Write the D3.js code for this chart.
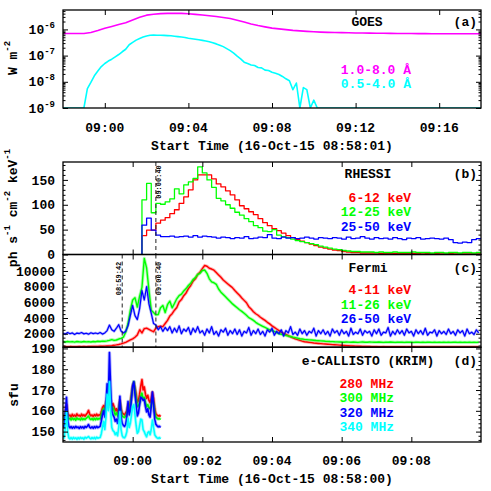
<!DOCTYPE html>
<html><head><meta charset="utf-8">
<script src="https://cdn.jsdelivr.net/npm/d3@7"></script>
<style>body{margin:0;background:#fff} svg{display:block}</style>
</head><body><svg id="c" width="491" height="491"></svg>
<script>
// ---------------- DATA ----------------
// GOES (panel a), seconds from 08:58:00
const goesLongCadence = 20;   // s
const goesLong = [ // 1.0-8.0 A, W m^-2
 7.0e-7,7.0e-7,7.0e-7,7.0e-7,7.6e-7,9.0e-7,1.1e-6,1.3e-6,1.55e-6,1.8e-6,
 2.3e-6,2.9e-6,3.5e-6,3.8e-6,4.0e-6,4.1e-6,4.15e-6,4.1e-6,3.95e-6,3.75e-6,
 3.55e-6,3.3e-6,3.1e-6,2.85e-6,2.6e-6,2.25e-6,1.9e-6,1.6e-6,1.4e-6,1.25e-6,
 1.12e-6,1.05e-6,9.8e-7,9.2e-7,8.8e-7,8.4e-7,8.1e-7,7.9e-7,7.7e-7,7.6e-7,
 7.5e-7,7.4e-7,7.3e-7,7.25e-7,7.2e-7,7.15e-7,7.1e-7,7.05e-7,7.0e-7,7.0e-7,
 6.95e-7,6.9e-7,6.9e-7,6.85e-7,6.85e-7,6.8e-7,6.8e-7,6.8e-7,6.8e-7,6.8e-7,
 6.8e-7];
const goesShortCadence = 10;  // s
const goesShort = [ // 0.5-4.0 A
 1e-9,1e-9,1e-9,1e-9,1e-9,1e-9,1e-9,5.5e-9,9.5e-9,1.7e-8,
 2.6e-8,3.8e-8,5e-8,6.2e-8,7.3e-8,9e-8,1.1e-7,1.4e-7,1.75e-7,2.6e-7,
 3.2e-7,3.9e-7,4.5e-7,5.1e-7,5.6e-7,6.0e-7,6.1e-7,6.0e-7,6.0e-7,5.9e-7,
 5.8e-7,5.7e-7,5.5e-7,5.3e-7,5.1e-7,4.9e-7,4.6e-7,4.4e-7,4.2e-7,4.0e-7,
 3.8e-7,3.6e-7,3.4e-7,3.1e-7,2.8e-7,2.5e-7,2.2e-7,1.85e-7,1.55e-7,1.25e-7,
 9.5e-8,7.5e-8,5.6e-8,5.0e-8,4.4e-8,4.2e-8,3.5e-8,3.4e-8,2.8e-8,2.7e-8,
 2.3e-8,2.1e-8,1.9e-8,1.6e-8,1.3e-8,1.1e-8,5e-9,9e-9,1e-9,6e-9,
 5e-9,1e-9,2e-9,1e-9,1e-9,1e-9,1e-9,1e-9,1e-9,1e-9,
 1e-9,1e-9,1e-9,1e-9,1e-9,1e-9,1e-9,1e-9,1e-9,1e-9,
 1e-9,1e-9,1e-9,1e-9,1e-9,1e-9,1e-9,1e-9,1e-9,1e-9,
 1e-9,1e-9,1e-9,1e-9,1e-9,1e-9,1e-9,1e-9,1e-9,1e-9,
 1e-9,1e-9,1e-9,1e-9,1e-9,1e-9,1e-9,1e-9,1e-9,1e-9,
 1e-9];

// RHESSI (panel b): 8 s bins starting 136 s after 08:58:00
const rhessiStart = 136, rhessiBin = 8;
const rhessi6_12 = [
 38,49,49,63,69,74,82,90,103,116,
 130,150,160,160,160,152,142,136,128,120,
 110,98,92,86,80,72,64,58,52,48,
 43,38,34,30,27,24,21,18,15,13,
 11,9,8,6,5,4,4,3,3,3,
 3,2,2,2,2,2,2,2,2,2,
 1,2,1,2,1,1,2,1,1,1,
 1,1,1];
const rhessi12_25 = [
 110,143,84,103,101,106,112,132,122,140,
 146,153,176,164,150,135,113,108,100,93,
 85,79,72,66,58,54,47,46,50,39,
 36,34,31,28,26,24,22,20,17,15,
 13,11,10,8,7,6,6,5,5,5,
 4,5,4,4,5,4,4,4,5,4,
 4,4,3,4,4,3,4,4,3,4,
 4,3,4];
const rhessi25_50 = [
 59,73,49,39,36,36,37,35,36,37,
 35,38,35,37,36,35,33,35,34,32,
 34,33,36,32,33,35,34,40,33,32,
 35,33,34,32,33,35,33,31,34,33,
 32,34,33,31,35,32,33,36,33,31,
 34,32,33,31,34,32,30,33,32,34,
 31,32,33,32,31,33,30,24,23,25,
 24,30,32];

// Fermi (panel c): 4 s cadence from 08:58:00, counts
const fermiCadence = 4;
const fermi4_11 = [
 340,352,335,360,348,356,342,365,350,362,358,370,366,380,375,
 390,405,400,420,435,455,480,520,570,630,710,800,900,1050,1200,
 1350,1550,1850,2500,2100,2650,2700,2550,2400,2250,2700,2900,2950,2900,3300,
 3700,4250,4550,5000,5350,6050,6350,6850,7200,7750,8150,8700,9000,9550,9850,
 10300,10700,10600,10350,10250,10100,9800,9500,9200,8850,8600,8350,8100,7850,7500,
 7200,6900,6550,6250,5950,5450,5150,4800,4550,4350,4100,3900,3700,3450,3250,
 3000,2800,2600,2400,2200,2050,1900,1750,1600,1470,1350,1250,1150,1060,980,
 940,900,860,820,790,760,730,700,680,660,640,610,590,570,550,
 520,500,480,465,450,435,420,408,398,388,378,370,362,356,350,
 345,340,338,342,336,334,338,332,335,330,333,328,331,327,330,
 326,329,324,327,322,326,321,324,320,323,319,322,318,321,317,
 320,316,319,315,318,314,317,313,316,312,315,311,314,310,313];
const fermi11_26 = [
 980,940,1010,960,990,930,1000,970,950,1010,960,990,940,1000,970,
 1040,1010,1060,1030,1080,1150,1250,1150,1200,1320,1400,1550,2200,3300,5000,
 6300,6600,5400,6800,7900,11600,10400,7600,5000,4700,4400,4450,5300,5600,4700,
 5700,6150,5300,5850,6450,6850,7050,7450,7750,8150,8450,8900,9150,9550,9700,
 10050,10120,9700,9000,8600,8500,8300,7700,7300,7000,6700,6400,6100,5800,5550,
 5300,5050,4850,4600,4350,4050,3900,3700,3450,3250,3100,2950,2800,2650,2500,
 2400,2300,2150,2000,1930,1850,1780,1700,1640,1560,1500,1430,1360,1320,1280,
 1250,1220,1190,1160,1130,1110,1090,1070,1040,1020,1000,990,970,960,950,
 940,920,950,930,910,940,920,900,930,950,920,910,940,930,920,
 910,940,920,900,930,910,940,920,900,930,910,920,900,930,910,
 920,900,930,910,890,920,900,930,910,890,920,900,910,890,920,
 900,920,890,910,930,900,920,890,910,900,920,890,910,900,920];
const fermi26_50 = [
 2050,1950,2150,2000,2100,1900,2080,2020,2150,1980,2060,1940,2120,2010,2090,
 2000,2150,1950,2100,2400,3100,2500,2300,2700,3150,2350,2100,2300,3000,4300,
 5600,4300,3800,5200,7500,6300,8000,5800,4600,3300,3100,2500,2900,2300,2800,
 2400,2900,2100,2700,2200,3000,2000,2600,2300,2800,1900,2700,2200,2900,2100,
 2400,1800,2600,2100,2900,1900,2300,1700,2500,2200,2700,1800,2400,2000,2600,
 1900,2500,1700,2300,2100,2800,1800,2400,2000,2600,1900,2300,1700,2500,2200,
 2700,1800,2300,2000,2500,1700,2400,2100,2900,1900,2200,1800,2600,2000,2400,
 1800,2300,2100,2700,1700,2400,2000,2500,1900,2300,1700,2600,2100,2400,1800,
 2500,2000,2300,1700,2700,1900,2200,2000,2600,1800,2400,2100,2300,1700,2500,
 2000,2600,1800,2200,2100,2800,1700,2300,1900,2500,2000,2400,1800,2600,2100,
 2300,1700,2500,2000,2400,1900,2700,1800,2200,2100,2500,1700,2400,2000,2300,
 1900,2600,2000,2300,1800,2500,2100,2400,1700,2600,2000,2200,1900,2500,2100];

// e-CALLISTO KRIM (panel d): 2 s cadence from 08:58:00, sfu
const callistoCadence = 2;
const cal280 = [
 158,157,160,163,159,157.5,158,157,158.3,157.4,
 158,157.2,158.5,157.6,157.9,157.3,158.4,157.5,158.1,157.4,
 158.2,159,160.2,158.3,157.6,158,157.3,158.2,157.5,158.4,
 157.6,158.1,157.8,159.5,161.5,162.5,161,164,166,163,
 170,165,162,163.5,162,160,161,159,161.5,165,
 161,159,158.5,158,159,160,163,161,164,168,
 172,173.5,171,168,164,165,168,172,175,170,
 171.5,168,166,167.5,165,164,166,169,166,161,
 158.5,158,157.5,157.8,157.2];
const cal300 = [
 156.5,155.5,158,161,157,156,156.4,155.6,156.5,155.8,
 156.3,155.5,156.6,155.9,156.2,155.6,156.5,155.7,156.2,155.8,
 156.4,156.9,157.5,156.2,155.8,156.3,155.6,156.4,155.7,156.5,
 155.9,156.3,156.1,158,160,161,160,163,166,162,
 168,163,160,161.5,160,158,159,157.5,160,164,
 159.5,157.5,157,156.8,157.5,158.5,161.5,159.5,162.5,167,
 171,174,170,166,162,162.5,164,167,168.5,166,
 166.5,164,162,163,161.5,161,163,166,163.5,159,
 157,156.5,156,156.3,155.8];
const cal320 = [
 153,152,158,166.5,156,152.5,151.8,152.4,151.6,152.3,
 151.7,152.5,151.9,152.2,151.5,152.4,151.8,152.3,151.6,152.5,
 152,152.6,153.4,152.1,151.7,152.3,151.6,152.4,151.8,152.5,
 151.9,152.2,152.5,155,158,160,157,163,173,165,
 188,172,160,158,157,155,156,154,158,167,
 157,154,153,152.5,153.5,157,164.5,158,160,166,
 172,174,168,163,157.5,159,163,166.5,166,165,
 165.5,162,159.5,161,158,157,162,169,163,156,
 153.5,152.8,152.3,152.6,152];
const cal340 = [
 148,147,152,159.5,150,147,146.5,147.1,146.4,147.2,
 146.6,147,146.3,147.1,146.5,147.2,146.7,147,146.4,147.3,
 146.8,147.2,147.6,146.9,146.5,147.1,146.6,147.2,146.5,147.3,
 146.8,147,147.2,149,152,155,151,157,168,160,
 174,160,152,150.5,150,148.5,149.5,148,152,159.5,
 151,148,147.2,147,148,150,156.4,152,154,158,
 162,163,158,153,149.2,150,153,156,155.6,151,
 150,148.5,147.5,149.5,150,148.5,151,155.6,152,148.5,
 147.6,147,146.7,147.1,146.5];

// tick values / labels
const goesTicks = [120,360,600,840,1080];
const goesTickLabels = ["09:00","09:04","09:08","09:12","09:16"];
const timeTicks = [120,240,360,480,600];
const timeTickLabels = ["09:00","09:02","09:04","09:06","09:08"];
const goesExps = [-9,-8,-7,-6];
const rhessiTicks = [0,50,100,150];
const fermiTicks = [2000,4000,6000,8000,10000];
const callistoTicks = [150,160,170,180,190];
const markers = [{t:102,label:"08:59:42",side:-1},{t:160,label:"09:00:40",side:1}];

// ---------------- LAYOUT ----------------
const FONT = '"Liberation Mono","DejaVu Sans Mono",monospace';
const L = 63, R = 481;
const A = {top:10, bottom:108}, B = {top:162, bottom:254.5}, C = {top:254.5, bottom:347.2}, D = {top:347.2, bottom:442};
const svg = d3.select("#c");

const xA = d3.scaleLinear().domain([0,1200]).range([L,R]);
const xT = d3.scaleLinear().domain([0,720]).range([L,R]);
const yA = d3.scaleLog().domain([1e-9,5.5e-6]).range([A.bottom,A.top]);
const yB = d3.scaleLinear().domain([0,186]).range([B.bottom,B.top]);
const yC = d3.scaleLinear().domain([280,12100]).range([C.bottom,C.top]);
const yD = d3.scaleLinear().domain([145,190.6]).range([D.bottom,D.top]);

const defs = svg.append("defs");
[["ca",A],["cb",B],["cc",C],["cd",D]].forEach(([id,p])=>{
  defs.append("clipPath").attr("id",id).append("rect")
    .attr("x",L).attr("y",p.top).attr("width",R-L).attr("height",p.bottom-p.top);
});

function text(x,y,str,opts={}){
  return svg.append("text").attr("x",x).attr("y",y).text(str)
    .attr("font-family",FONT).attr("font-size",opts.size||13)
    .attr("font-weight",opts.weight||"bold")
    .attr("fill",opts.fill||"#000").attr("text-anchor",opts.anchor||"start");
}

// ---------------- LINES ----------------
function path(clip, data, xs, ys, color, w, curve, halo){
  const d = d3.line().x(d=>xs(d[0])).y(d=>ys(d[1])).curve(curve||d3.curveLinear)(data);
  if(halo){
    svg.append("path").attr("clip-path",`url(#${clip})`).attr("d",d)
      .attr("fill","none").attr("stroke",color).attr("stroke-width",halo)
      .attr("stroke-opacity",0.3).attr("stroke-linejoin","round");
  }
  svg.append("path").attr("clip-path",`url(#${clip})`).attr("d",d)
    .attr("fill","none").attr("stroke",color).attr("stroke-width",w)
    .attr("stroke-linejoin","round");
}
const series = (arr,cad,t0=0)=>arr.map((v,i)=>[t0+i*cad,v]);

// panel a
path("ca", series(goesLong,goesLongCadence), xA, yA, "#ff00ff", 1.6);
path("ca", series(goesShort,goesShortCadence), xA, yA, "#00ffff", 1.6);

// panel b (histograms)
function hist(arr){
  const pts = series(arr,rhessiBin,rhessiStart);
  pts.unshift([rhessiStart,0]);
  pts.push([rhessiStart+arr.length*rhessiBin, arr[arr.length-1]]);
  return pts;
}
path("cb", hist(rhessi6_12), xT, yB, "#ff0000", 1.3, d3.curveStepAfter);
path("cb", hist(rhessi12_25), xT, yB, "#00ff00", 1.3, d3.curveStepAfter);
path("cb", hist(rhessi25_50), xT, yB, "#0000ff", 1.3, d3.curveStepAfter);

// panel c
path("cc", series(fermi4_11,fermiCadence), xT, yC, "#ff0000", 1.4, null, 3.2);
path("cc", series(fermi11_26,fermiCadence), xT, yC, "#00ff00", 1.4, null, 3.2);
path("cc", series(fermi26_50,fermiCadence), xT, yC, "#0000ff", 1.2, null, 2.6);

// panel d
path("cd", series(cal280,callistoCadence), xT, yD, "#ff0000", 1.6, null, 3.4);
path("cd", series(cal300,callistoCadence), xT, yD, "#00ff00", 1.6, null, 3.4);
path("cd", series(cal320,callistoCadence), xT, yD, "#0000ff", 1.6, null, 3.4);
path("cd", series(cal340,callistoCadence), xT, yD, "#00ffff", 1.6, null, 3.4);

// dashed markers
function marker(p, m, off){
  const x = xT(m.t);
  svg.append("line").attr("x1",x).attr("x2",x).attr("y1",p.top).attr("y2",p.bottom)
    .attr("stroke","#222").attr("stroke-width",1).attr("stroke-dasharray","4,3");
  const bx = m.side>0 ? x+5.5 : x-1.5;
  svg.append("text").attr("transform",`translate(${bx},${p.top+off}) rotate(-90)`)
    .attr("text-anchor","middle").attr("font-family",FONT).attr("font-size",7)
    .attr("font-weight","bold").attr("fill","#000").text(m.label);
}
marker(B, markers[1], 20);
marker(C, markers[0], 24);
marker(C, markers[1], 24);

// ---------------- AXES ----------------
function clean(g){ g.select(".domain").remove(); g.selectAll("text").remove(); g.selectAll("line").attr("stroke","#000").attr("stroke-width",1); }
function yTicks(scale, major, minor){
  [[d3.axisLeft,L],[d3.axisRight,R]].forEach(([ax,x])=>{
    clean(svg.append("g").attr("transform",`translate(${x},0)`).call(ax(scale).tickValues(major).tickSize(-5).tickFormat("")));
    clean(svg.append("g").attr("transform",`translate(${x},0)`).call(ax(scale).tickValues(minor).tickSize(-2.5).tickFormat("")));
  });
}
function xTicks(scale, vals, p){
  clean(svg.append("g").attr("transform",`translate(0,${p.bottom})`).call(d3.axisBottom(scale).tickValues(vals).tickSize(-5).tickFormat("")));
  clean(svg.append("g").attr("transform",`translate(0,${p.top})`).call(d3.axisTop(scale).tickValues(vals).tickSize(-5).tickFormat("")));
}
const logMinor = [];
goesExps.forEach(e=>{ for(let k=2;k<=9;k++){ const v=k*Math.pow(10,e); if(v<=5.5e-6) logMinor.push(v);} });
const bMinor = d3.range(10,186,10).filter(v=>v%50!==0);
const cMinor = d3.range(500,12100,500).filter(v=>v%2000!==0);
const dMinor = d3.range(146,191,2).filter(v=>v%10!==0);

yTicks(yA, goesExps.map(e=>Math.pow(10,e)), logMinor);
yTicks(yB, rhessiTicks, bMinor);
yTicks(yC, fermiTicks, cMinor);
yTicks(yD, callistoTicks, dMinor);
xTicks(xA, goesTicks, A);
[B,C,D].forEach(p=>xTicks(xT, timeTicks, p));

[A,B,C,D].forEach(p=>svg.append("rect").attr("x",L).attr("y",p.top).attr("width",R-L)
  .attr("height",p.bottom-p.top).attr("fill","none").attr("stroke","#000").attr("stroke-width",1.3));

// y tick labels
goesExps.forEach(e=>{
  const t = text(55, yA(Math.pow(10,e))+4.6, "10", {anchor:"end"});
  t.append("tspan").attr("dy",-6).attr("font-size",9).text(String(e));
});
rhessiTicks.forEach(v=>text(55, yB(v)+4.6, String(v), {anchor:"end"}));
fermiTicks.forEach(v=>text(55, yC(v)+4.6, String(v), {anchor:"end"}));
callistoTicks.forEach(v=>text(55, yD(v)+4.6, String(v), {anchor:"end"}));

// x tick labels and titles
goesTicks.forEach((v,i)=>text(xA(v), 131.6, goesTickLabels[i], {anchor:"middle"}));
timeTicks.forEach((v,i)=>text(xT(v), 464.6, timeTickLabels[i], {anchor:"middle"}));
text((L+R)/2, 149.6, "Start Time (16-Oct-15 08:58:01)", {anchor:"middle"});
text((L+R)/2, 482.6, "Start Time (16-Oct-15 08:58:00)", {anchor:"middle"});

// rotated y titles with superscripts
function ytitle(x,y,parts){
  const t = svg.append("text").attr("transform",`translate(${x},${y}) rotate(-90)`)
    .attr("text-anchor","middle").attr("font-family",FONT).attr("font-size",13).attr("font-weight","bold");
  let raised = false;
  parts.forEach(([s,sup])=>{
    const ts = t.append("tspan").text(s);
    if(sup && !raised){ ts.attr("dy",-7).attr("font-size",9); raised = true; }
    else if(sup){ ts.attr("font-size",9); }
    else if(raised){ ts.attr("dy",7); raised = false; }
  });
}
ytitle(17, 58, [["W m",0],["-2",1]]);
ytitle(17, 208, [["ph s",0],["-1",1],[" cm",0],["-2",1],[" keV",0],["-1",1]]);
ytitle(18, 395, [["sfu",0]]);

// panel titles and legends
text(367, 25.6, "GOES", {anchor:"middle"});
text(477, 25.6, "(a)", {anchor:"end"});
text(411, 73.6, "1.0-8.0 Å", {anchor:"end", fill:"#ff00ff"});
text(411, 87.6, "0.5-4.0 Å", {anchor:"end", fill:"#00ffff"});

text(368, 177.6, "RHESSI", {anchor:"middle"});
text(477, 177.6, "(b)", {anchor:"end"});
text(411, 202.3, "6-12 keV", {anchor:"end", fill:"#ff0000"});
text(411, 216.3, "12-25 keV", {anchor:"end", fill:"#00ff00"});
text(411, 230.6, "25-50 keV", {anchor:"end", fill:"#0000ff"});

text(368, 271.6, "Fermi", {anchor:"middle"});
text(477, 271.6, "(c)", {anchor:"end"});
text(411, 293.9, "4-11 keV", {anchor:"end", fill:"#ff0000"});
text(411, 308.9, "11-26 keV", {anchor:"end", fill:"#00ff00"});
text(411, 322.9, "26-50 keV", {anchor:"end", fill:"#0000ff"});

text(368, 364.6, "e-CALLISTO (KRIM)", {anchor:"middle"});
text(477, 364.6, "(d)", {anchor:"end"});
text(394, 387.9, "280 MHz", {anchor:"end", fill:"#ff0000"});
text(394, 402.3, "300 MHz", {anchor:"end", fill:"#00ff00"});
text(394, 416.6, "320 MHz", {anchor:"end", fill:"#0000ff"});
text(394, 431.3, "340 MHz", {anchor:"end", fill:"#00ffff"});
</script>
</body></html>
